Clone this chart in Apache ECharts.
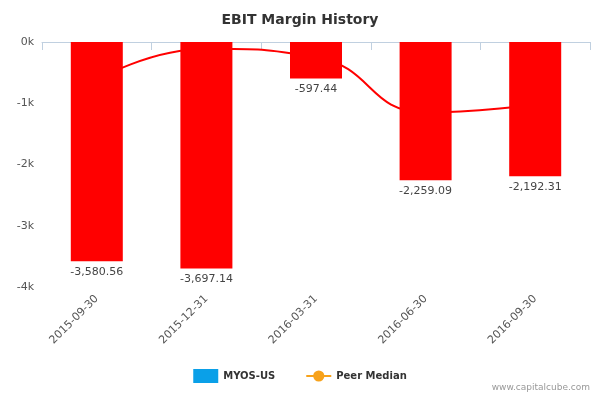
<!DOCTYPE html>
<html><head><meta charset="utf-8">
<script src="https://cdn.jsdelivr.net/npm/echarts@6/dist/echarts.min.js"></script>
<style>html,body{margin:0;padding:0;background:#fff}#main{width:600px;height:400px}</style>
</head><body><div id="main"></div>
<script>
var categories = ['2015-09-30', '2015-12-31', '2016-03-31', '2016-06-30', '2016-09-30'];
var ebitMargin = [-3580.56, -3697.14, -597.44, -2259.09, -2192.31];
var peerMedian = [-620, -110, -250, -1150, -1020];
var yTicks = ['0k', '-1k', '-2k', '-3k', '-4k'];

var chart = echarts.init(document.getElementById('main'));
chart.setOption({
    animation: false,
    title: {
        text: 'EBIT Margin History',
        left: 'center',
        top: 8,
        textStyle: { fontFamily: 'DejaVu Sans', fontSize: 14, fontWeight: 'bold', color: '#333' }
    },
    legend: {
        bottom: 12,
        left: 'center',
        itemGap: 30,
        textStyle: { fontFamily: 'DejaVu Sans', fontSize: 10, fontWeight: 'bold', color: '#333' },
        data: [
            { name: 'MYOS-US', icon: 'rect', itemStyle: { color: '#0aa0e8' } },
            { name: 'Peer Median', itemStyle: { color: '#f7a21b' }, lineStyle: { color: '#f7a21b' } }
        ]
    },
    graphic: [{
        type: 'text', right: 10, bottom: 8,
        style: { text: 'www.capitalcube.com', fill: '#999', font: '9px DejaVu Sans' }
    }],
    grid: { left: 42, right: 10, top: 42, bottom: 113 },
    xAxis: {
        type: 'category',
        data: categories,
        axisLine: { lineStyle: { color: '#c0d0e0' } },
        axisTick: { show: true, alignWithLabel: false, length: 8, lineStyle: { color: '#c0d0e0' } },
        axisLabel: { rotate: 45, color: '#555', fontFamily: 'DejaVu Sans', fontSize: 11, margin: 10 }
    },
    yAxis: {
        type: 'value',
        min: -4000, max: 0, interval: 1000,
        splitLine: { show: false },
        axisLine: { show: false },
        axisLabel: {
            color: '#555', fontFamily: 'DejaVu Sans', fontSize: 11,
            formatter: function (v) { return yTicks[Math.round(-v / 1000)]; }
        }
    },
    series: [
        {
            name: 'MYOS-US',
            type: 'bar',
            barWidth: 52,
            itemStyle: { color: '#0aa0e8' },
            data: ebitMargin.map(function (v) { return { value: v, itemStyle: { color: '#ff0000' } }; }),
            label: {
                show: true, position: 'bottom', distance: 5, color: '#444',
                fontFamily: 'DejaVu Sans', fontSize: 11,
                formatter: function (p) {
                    return p.value.toLocaleString('en-US', { minimumFractionDigits: 2, maximumFractionDigits: 2 });
                }
            },
            z: 2
        },
        {
            name: 'Peer Median',
            type: 'line',
            smooth: true,
            symbol: 'circle',
            showSymbol: false,
            itemStyle: { color: '#f7a21b' },
            lineStyle: { color: '#ff0000', width: 2 },
            data: peerMedian,
            z: 1
        }
    ]
});
</script></body></html>
